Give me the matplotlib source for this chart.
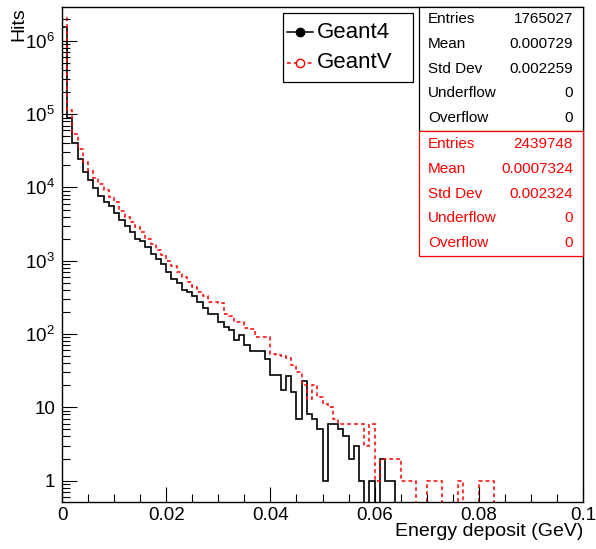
import numpy as np
import matplotlib
matplotlib.use("Agg")
import matplotlib.pyplot as plt
from matplotlib.patches import Rectangle
from matplotlib.lines import Line2D
from matplotlib.ticker import FixedLocator, LogLocator, NullFormatter, MultipleLocator

# histogram contents, 100 bins of 0.001 GeV from 0 to 0.1
bin_edges = np.linspace(0.0, 0.1, 101)
geant4 = [
    1.524e6, 9.0e4, 4.1e4, 2.45e4, 1.65e4, 1.25e4, 9.7e3, 7.6e3, 6.4e3, 5.5e3,
    4.5e3, 3.6e3, 3.0e3, 2.45e3, 2.0e3, 1.85e3, 1.55e3, 1.25e3, 1.05e3, 890,
    700, 560, 490, 400, 380, 330, 275, 228, 185, 190,
    148, 124, 113, 82, 98, 71, 59, 58, 58, 45,
    28, 28, 17, 27, 16, 7, 23, 8, 7, 5,
    1, 6, 6, 5, 4, 2, 3, 1, 0, 1,
    0, 2, 1, 1, 0, 0, 0, 0, 0, 0,
    0, 0, 0, 0, 0, 0, 0, 0, 0, 0,
    0, 0, 0, 0, 0, 0, 0, 0, 0, 0,
    0, 0, 0, 0, 0, 0, 0, 0, 0, 0,
]
geantv = [
    2.08e6, 1.15e5, 5.3e4, 3.3e4, 2.2e4, 1.7e4, 1.35e4, 1.1e4, 9.2e3, 7.5e3,
    6.3e3, 4.8e3, 4.0e3, 3.4e3, 2.9e3, 2.45e3, 2.0e3, 1.7e3, 1.4e3, 1.2e3,
    980, 840, 710, 600, 520, 440, 375, 330, 275, 270,
    265, 185, 175, 148, 145, 120, 118, 92, 92, 90,
    54, 52, 50, 47, 38, 30, 20, 13, 20, 14,
    11, 10, 7, 6, 6, 6, 6, 6, 3, 6,
    1, 2, 2, 2, 2, 1, 1, 1, 0, 0,
    1, 1, 1, 0, 0, 0, 1, 0, 0, 0,
    1, 1, 1, 0, 0, 0, 0, 0, 0, 0,
    0, 0, 0, 0, 0, 0, 0, 0, 0, 0,
]

stat_names = ["Entries", "Mean", "Std Dev", "Underflow", "Overflow"]
geant4_stats = ["1765027", "0.000729", "0.002259", "0", "0"]
geantv_stats = ["2439748", "0.0007324", "0.002324", "0", "0"]

y_ticks = [1, 10, 1e2, 1e3, 1e4, 1e5, 1e6]
y_labels = ["1", "10", "$10^{2}$", "$10^{3}$", "$10^{4}$", "$10^{5}$", "$10^{6}$"]
x_ticks = [0, 0.02, 0.04, 0.06, 0.08, 0.1]
x_labels = ["0", "0.02", "0.04", "0.06", "0.08", "0.1"]

plt.rcParams["font.family"] = ["Liberation Sans", "DejaVu Sans"]
plt.rcParams["mathtext.fontset"] = "custom"
plt.rcParams["mathtext.rm"] = "Liberation Sans"
plt.rcParams["mathtext.default"] = "regular"

W, H = 596, 549


def fx(px):
    return px / W


def fy(py):
    return 1 - py / H


fig = plt.figure(figsize=(W / 100, H / 100), dpi=100)
ax = fig.add_axes([fx(62), fy(502), fx(583) - fx(62), fy(7) - fy(502)])

floor = 1e-3  # empty bins drawn down to the frame, like ROOT does
g4 = np.array(geant4, dtype=float)
gv = np.array(geantv, dtype=float)
ax.stairs(np.where(g4 > 0, g4, floor), bin_edges, baseline=floor,
          color="black", lw=1.2)
ax.stairs(np.where(gv > 0, gv, floor), bin_edges, baseline=floor,
          color="red", lw=1.1, linestyle=(0, (2.5, 2)))

ax.set_yscale("log")
ax.set_xlim(0, 0.1)
ax.set_ylim(0.51, 2.9e6)

ax.yaxis.set_major_locator(FixedLocator(y_ticks))
ax.set_yticklabels(y_labels)
ax.yaxis.set_minor_locator(LogLocator(base=10, subs=np.arange(2, 10)))
ax.yaxis.set_minor_formatter(NullFormatter())
ax.xaxis.set_major_locator(FixedLocator(x_ticks))
ax.set_xticklabels(x_labels)
ax.xaxis.set_minor_locator(MultipleLocator(0.005))

ax.tick_params(which="both", direction="in", labelsize=13.5, width=0.8)
ax.tick_params(which="major", length=11)
ax.tick_params(which="minor", length=5.5)
ax.tick_params(axis="x", pad=3.5)
ax.tick_params(axis="y", pad=5)
for s in ax.spines.values():
    s.set_linewidth(1.0)

fig.text(fx(18.5), fy(7), "Hits", rotation=90, ha="center", va="top", fontsize=14)
fig.text(fx(583), fy(536), "Energy deposit (GeV)", ha="right", va="baseline",
         fontsize=14)

# legend
fig.add_artist(Rectangle((fx(283), fy(82)), fx(413) - fx(283), fy(13) - fy(82),
                         transform=fig.transFigure, fc="white", ec="black", lw=0.9))
fig.add_artist(Line2D([fx(287), fx(313)], [fy(32), fy(32)], transform=fig.transFigure,
                      color="black", lw=1.1))
fig.add_artist(Line2D([fx(300)], [fy(32)], transform=fig.transFigure, marker="o",
                      ms=6, color="black"))
fig.add_artist(Line2D([fx(287), fx(313)], [fy(63), fy(63)], transform=fig.transFigure,
                      color="red", lw=1.1, linestyle=(0, (2.5, 2))))
fig.add_artist(Line2D([fx(300)], [fy(63)], transform=fig.transFigure, marker="o",
                      ms=6, mfc="white", mec="red", mew=1.0))
fig.text(fx(317), fy(32), "Geant4", va="center", fontsize=16)
fig.text(fx(317), fy(63), "GeantV", va="center", fontsize=16)

# stats boxes
fig.add_artist(Rectangle((fx(419), fy(131)), fx(583) - fx(419), fy(7) - fy(131),
                         transform=fig.transFigure, fc="white", ec="black", lw=0.9))
fig.add_artist(Rectangle((fx(419), fy(256)), fx(583) - fx(419), fy(131) - fy(256),
                         transform=fig.transFigure, fc="white", ec="red", lw=0.9))
for k, name in enumerate(stat_names):
    y1 = 19 + 24.8 * k
    y2 = 144 + 24.8 * k
    fig.text(fx(428), fy(y1), name, va="center", fontsize=11, color="black")
    fig.text(fx(573), fy(y1), geant4_stats[k], va="center", ha="right",
             fontsize=11, color="black")
    fig.text(fx(428), fy(y2), name, va="center", fontsize=11, color="red")
    fig.text(fx(573), fy(y2), geantv_stats[k], va="center", ha="right",
             fontsize=11, color="red")

fig.savefig("out.png", dpi=100)
